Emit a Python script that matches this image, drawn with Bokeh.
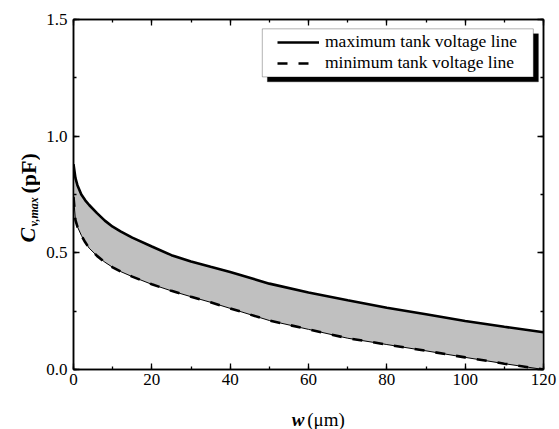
import numpy as np
from bokeh.plotting import figure
from bokeh.layouts import row, column
from bokeh.models import (Range1d, LinearAxis, FixedTicker, PrintfTickFormatter,
                          Legend, LegendItem, BoxAnnotation, ColumnDataSource)
from bokeh.core.properties import value
from bokeh.embed import file_html
from bokeh.resources import INLINE

# ---- data ----
w_um = [0, 0.5, 1, 2, 3, 4, 6, 8, 10, 12, 15, 20, 25, 30, 35, 40,
        50, 60, 70, 80, 90, 100, 110, 120]
c_max = [0.88, 0.82, 0.79, 0.75, 0.725, 0.705, 0.67, 0.638, 0.612, 0.592, 0.565,
         0.527, 0.49, 0.463, 0.44, 0.418, 0.368, 0.33, 0.297, 0.265, 0.237,
         0.208, 0.183, 0.16]
c_min = [0.74, 0.64, 0.612, 0.575, 0.545, 0.52, 0.487, 0.46, 0.438, 0.42, 0.398,
         0.365, 0.337, 0.312, 0.288, 0.262, 0.21, 0.172, 0.134, 0.107, 0.08,
         0.052, 0.025, 0.0]
x_ticks = [0, 20, 40, 60, 80, 100, 120]
y_ticks = [0.0, 0.5, 1.0, 1.5]
legend_labels = ["maximum tank voltage line", "minimum tank voltage line"]

SERIF = "Liberation Serif"
W, H = 559, 429
LW = 40          # width of the strip that holds the y title
XH = 30          # height of the strip that holds the x title

src = ColumnDataSource(dict(w=w_um, cmax=c_max, cmin=c_min))

p = figure(width=W - LW, height=H - XH, output_backend="svg", toolbar_location=None,
           x_range=Range1d(0, 120), y_range=Range1d(0, 1.5),
           min_border_left=73 - LW, min_border_right=16, min_border_top=19,
           min_border_bottom=30)
p.xgrid.visible = False
p.ygrid.visible = False
p.outline_line_color = "black"
p.outline_line_width = 1.5
p.background_fill_color = "white"
p.border_fill_color = "white"

def style_axis(ax, show_labels=True):
    ax.axis_line_color = "black"
    ax.axis_line_width = 1.5
    ax.major_tick_line_color = "black"
    ax.minor_tick_line_color = "black"
    ax.major_tick_line_width = 1.3
    ax.minor_tick_line_width = 1.3
    ax.major_tick_in = 6
    ax.major_tick_out = 0
    ax.minor_tick_in = 3
    ax.minor_tick_out = 0
    ax.major_label_text_font = SERIF
    ax.major_label_text_font_size = "17px"
    ax.major_label_text_font_style = "normal"
    ax.major_label_text_color = "black" if show_labels else None

x_minor = list(range(0, 121, 10))
y_minor = [0.25 * i for i in range(7)]

p.xaxis.ticker = FixedTicker(ticks=x_ticks, minor_ticks=x_minor)
p.yaxis.ticker = FixedTicker(ticks=y_ticks, minor_ticks=y_minor)
p.yaxis.formatter = PrintfTickFormatter(format="%.1f")
style_axis(p.xaxis[0])
style_axis(p.yaxis[0])
p.xaxis.major_label_standoff = 4
p.yaxis.major_label_standoff = 6

top = LinearAxis(ticker=FixedTicker(ticks=x_ticks, minor_ticks=x_minor))
style_axis(top, False)
top.major_label_text_font_size = "1px"
top.major_label_standoff = 0
p.add_layout(top, "above")
right = LinearAxis(ticker=FixedTicker(ticks=y_ticks, minor_ticks=y_minor))
style_axis(right, False)
right.major_label_text_font_size = "1px"
right.major_label_standoff = 0
p.add_layout(right, "right")

# ---- band and lines ----
p.varea(x="w", y1="cmin", y2="cmax", source=src, fill_color="#c0c0c0")
p.line(x="w", y="cmin", source=src, line_color="black", line_width=1)
r_max = p.line(x="w", y="cmax", source=src, line_color="black", line_width=2.6)
r_min = p.line(x="w", y="cmin", source=src, line_color="black", line_width=2.6,
               line_dash="10 11")

# ---- legend box with drop shadow ----
shadow = BoxAnnotation(left=49.5, right=118.7, top=1.439, bottom=1.233,
                       fill_color="black", fill_alpha=1, line_color="black",
                       level="underlay")
box = BoxAnnotation(left=48.2, right=117.4, top=1.460, bottom=1.254,
                    fill_color="white", fill_alpha=1, line_color="black",
                    line_width=1, level="underlay")
p.add_layout(shadow)
p.add_layout(box)

legend = Legend(items=[LegendItem(label=legend_labels[0], renderers=[r_max]),
                       LegendItem(label=legend_labels[1], renderers=[r_min])],
                location=(204, 296), border_line_color=None,
                background_fill_alpha=0, padding=0, margin=0, spacing=0,
                glyph_width=42, glyph_height=20, label_height=20,
                label_standoff=6, label_text_font=SERIF,
                label_text_font_size="17.5px", label_text_color="black")
p.add_layout(legend)

# ---- title strips (pixel coordinates inside each strip) ----
def strip(width, height):
    f = figure(width=width, height=height, output_backend="svg",
               toolbar_location=None, x_range=Range1d(0, width),
               y_range=Range1d(0, height), min_border=0)
    f.axis.visible = False
    f.grid.visible = False
    f.outline_line_color = None
    f.background_fill_color = "white"
    f.border_fill_color = "white"
    return f

ylab = strip(LW, H)
ang = np.pi / 2
ylab.text(x=[27], y=[H - 242], text=["C"], angle=ang, text_font=value(SERIF),
          text_font_size="22px", text_font_style="bold italic",
          text_baseline="alphabetic", text_align="left", text_color="black")
ylab.text(x=[33], y=[H - 226], text=["v,max"], angle=ang, text_font=value(SERIF),
          text_font_size="12px", text_font_style="bold italic",
          text_baseline="alphabetic", text_align="left", text_color="black")
ylab.text(x=[28], y=[H - 193], text=["(pF)"], angle=ang, text_font=value(SERIF),
          text_font_size="22px", text_font_style="bold",
          text_baseline="alphabetic", text_align="left", text_color="black")

xlab = strip(W - LW, XH)
xlab.text(x=[281 - LW], y=[H - 419], text=["w"], text_font=value(SERIF),
          text_font_size="19px", text_font_style="bold italic",
          text_baseline="alphabetic", text_align="left", text_color="black")
xlab.text(x=[298 - LW], y=[H - 419], text=["(\u03bcm)"], text_font=value(SERIF),
          text_font_size="19px", text_baseline="alphabetic", text_align="left",
          text_color="black")

layout = row(ylab, column(p, xlab, spacing=0), spacing=0)

open("out.html", "w").write(file_html(layout, INLINE))
